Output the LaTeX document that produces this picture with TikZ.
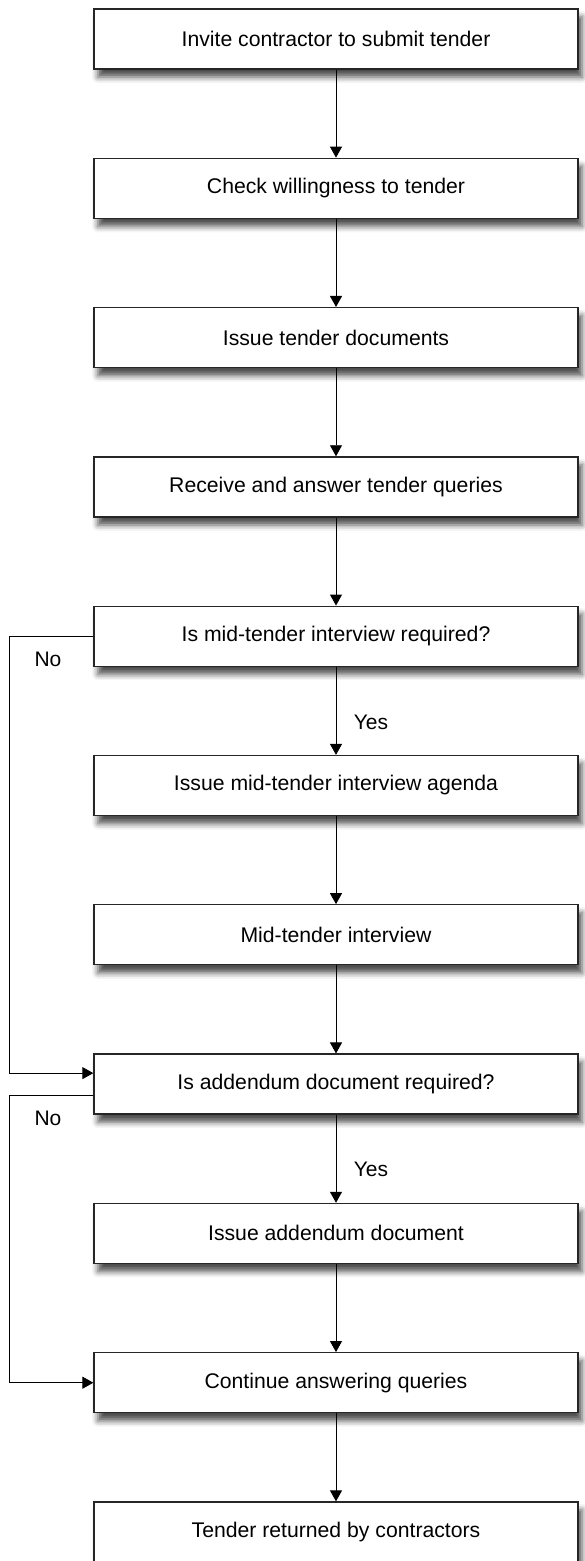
\documentclass[tikz,border=0pt]{standalone}
\usepackage{fontspec}
\setmainfont{Liberation Sans}
\usetikzlibrary{arrows.meta,shadows.blur}
\begin{document}
\begin{tikzpicture}[x=1pt,y=-1pt,
  stepbox/.style={draw=black!85, line width=1.3pt, fill=white,
    minimum width=484pt, minimum height=60pt, inner sep=0pt,
    font=\fontsize{21.2}{25}\selectfont,
    blur shadow={shadow xshift=4pt, shadow yshift=-8pt,
      shadow blur radius=6pt, shadow opacity=70}},
  flow/.style={line width=0.9pt, -{Triangle[length=11pt,width=12pt]}},
  lbl/.style={font=\fontsize{21}{25}\selectfont}]
\useasboundingbox (0,0) rectangle (585,1561);

% process steps, one every 149.3pt
\node[stepbox] (n1)  at (336,39.0)   {Invite contractor to submit tender};
\node[stepbox] (n2)  at (336,188.3)  {Check willingness to tender};
\node[stepbox] (n3)  at (336,337.6)  {Issue tender documents};
\node[stepbox] (n4)  at (336,486.9)  {Receive and answer tender queries};
\node[stepbox] (n5)  at (336,636.2)  {Is mid-tender interview required?};
\node[stepbox] (n6)  at (336,785.5)  {Issue mid-tender interview agenda};
\node[stepbox] (n7)  at (336,934.8)  {Mid-tender interview};
\node[stepbox] (n8)  at (336,1084.1) {Is addendum document required?};
\node[stepbox] (n9)  at (336,1233.4) {Issue addendum document};
\node[stepbox] (n10) at (336,1382.7) {Continue answering queries};
\node[stepbox] (n11) at (336,1532.0) {Tender returned by contractors};

% main sequence
\draw[flow] (n1) -- (n2);
\draw[flow] (n2) -- (n3);
\draw[flow] (n3) -- (n4);
\draw[flow] (n4) -- (n5);
\draw[flow] (n5) -- (n6);
\draw[flow] (n6) -- (n7);
\draw[flow] (n7) -- (n8);
\draw[flow] (n8) -- (n9);
\draw[flow] (n9) -- (n10);
\draw[flow] (n10) -- (n11);

% "No" bypass routes along the left margin
\coordinate (rail) at (9,0);
\coordinate (n8in)  at ([yshift=11pt]n8.west);
\coordinate (n8out) at ([yshift=-11pt]n8.west);
\draw[flow] (n5.west) -- (n5.west -| rail) |- (n8in);
\draw[flow] (n8out) -- (n8out -| rail) |- (n10.west);

% branch labels
\node[lbl] (no1)  at (48,659)   {No};
\node[lbl] (no2)  at (48,1118)  {No};
\node[lbl] (yes1) at (371,722)  {Yes};
\node[lbl] (yes2) at (371,1169) {Yes};
\end{tikzpicture}
\end{document}
